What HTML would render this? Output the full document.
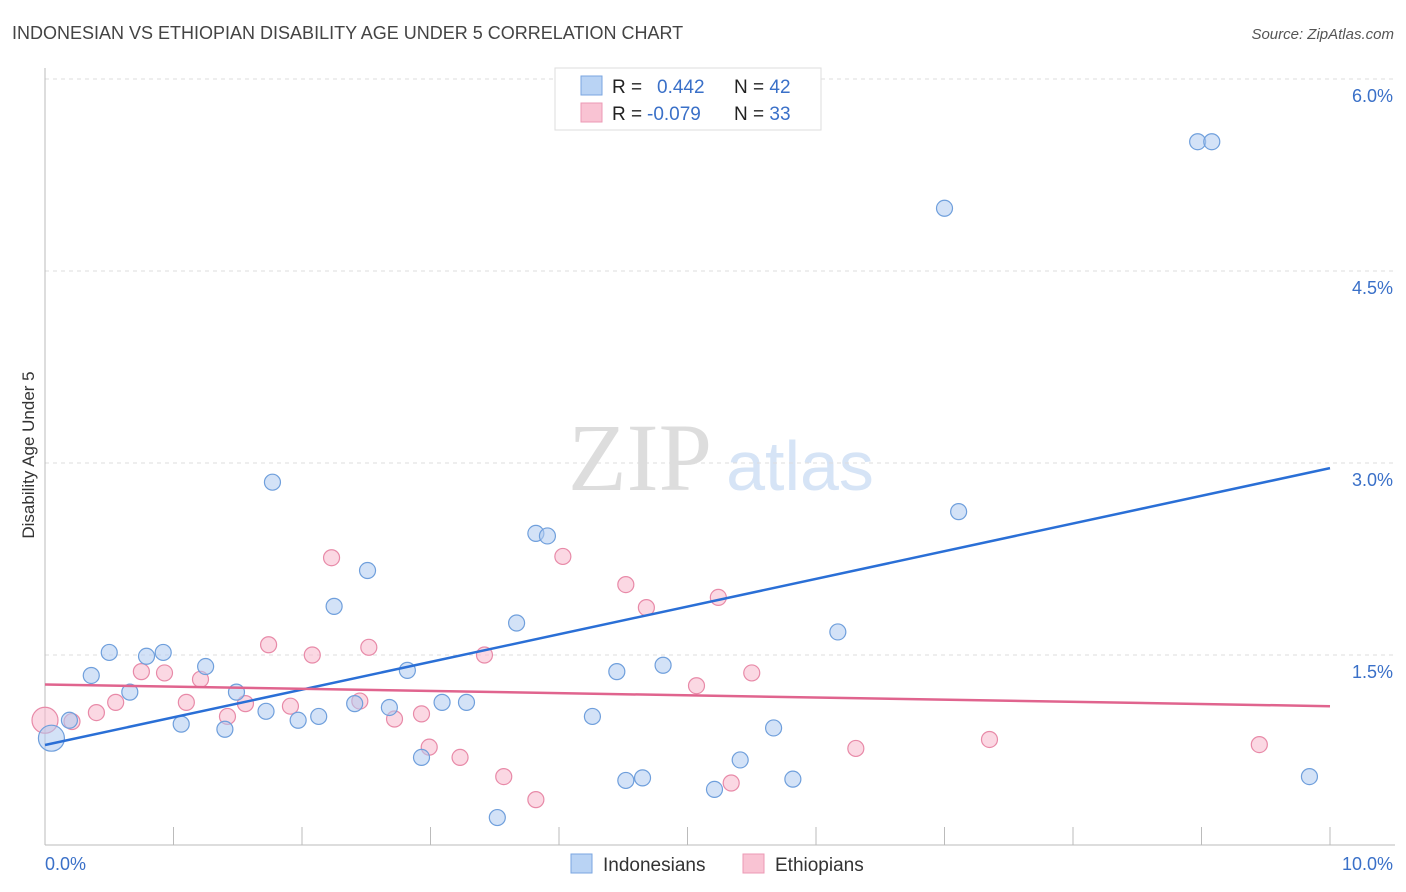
<!DOCTYPE html>
<html><head><meta charset="utf-8"><style>
body{margin:0;background:#fff;font-family:"Liberation Sans",sans-serif}
svg{display:block}
</style></head><body>
<svg id="c" width="1406" height="892">
<text x="12" y="39" font-size="18" fill="#444">INDONESIAN VS ETHIOPIAN DISABILITY AGE UNDER 5 CORRELATION CHART</text>
<text x="1394" y="39" font-size="15" fill="#555" font-style="italic" text-anchor="end">Source: ZipAtlas.com</text>
<text x="640" y="490" font-size="96" fill="#ddd" font-family="Liberation Serif" text-anchor="middle">ZIP</text>
<text x="800" y="490" font-size="70" fill="#d6e4f6" text-anchor="middle">atlas</text>
<text transform="translate(34,455) rotate(-90)" font-size="17" fill="#333" text-anchor="middle">Disability Age Under 5</text>
<g id="grid"></g><g id="pts"></g><g id="lines"></g>
<g>
<rect x="555" y="68" width="266" height="62" fill="#fff" stroke="#ddd"/>
<rect x="581" y="76" width="21" height="19" fill="#b9d3f4" stroke="#7aa6e0"/>
<rect x="581" y="103" width="21" height="19" fill="#f9c3d3" stroke="#ec99b4"/>
<text x="612" y="93" font-size="19" fill="#222">R = <tspan x="657" fill="#3a70c8">0.442</tspan><tspan x="734" fill="#222">N = </tspan><tspan fill="#3a70c8">42</tspan></text>
<text x="612" y="120" font-size="19" fill="#222">R = <tspan x="647" fill="#3a70c8">-0.079</tspan><tspan x="734" fill="#222">N = </tspan><tspan fill="#3a70c8">33</tspan></text>
</g>
<g>
<rect x="571" y="854" width="21" height="19" fill="#b9d3f4" stroke="#7aa6e0"/>
<text x="603" y="871" font-size="19" fill="#333">Indonesians</text>
<rect x="743" y="854" width="21" height="19" fill="#f9c3d3" stroke="#ec99b4"/>
<text x="775" y="871" font-size="19" fill="#333">Ethiopians</text>
</g>
</svg>
<script>
const blueX=[0.05,0.19,0.36,0.50,0.66,0.79,0.92,1.06,1.25,1.40,1.49,1.72,1.77,1.97,2.13,2.25,2.41,2.51,2.68,2.82,2.93,3.09,3.28,3.52,3.67,3.82,3.91,4.26,4.45,4.52,4.65,4.81,5.21,5.41,5.67,5.82,6.17,7.00,7.11,8.97,9.08,9.84];
const blueY=[0.85,0.99,1.34,1.52,1.21,1.49,1.52,0.96,1.41,0.92,1.21,1.06,2.85,0.99,1.02,1.88,1.12,2.16,1.09,1.38,0.70,1.13,1.13,0.23,1.75,2.45,2.43,1.02,1.37,0.52,0.54,1.42,0.45,0.68,0.93,0.53,1.68,4.99,2.62,5.51,5.51,0.55];
const pinkX=[0.0,0.21,0.40,0.55,0.75,0.93,1.10,1.21,1.42,1.56,1.74,1.91,2.08,2.23,2.45,2.52,2.72,2.93,2.99,3.23,3.42,3.57,3.82,4.03,4.52,4.68,5.07,5.24,5.34,5.50,6.31,7.35,9.45];
const pinkY=[0.99,0.98,1.05,1.13,1.37,1.36,1.13,1.31,1.02,1.12,1.58,1.10,1.50,2.26,1.14,1.56,1.00,1.04,0.78,0.70,1.50,0.55,0.37,2.27,2.05,1.87,1.26,1.95,0.50,1.36,0.77,0.84,0.80];
const blueTrend=[0.797,2.96];
const pinkTrend=[1.27,1.10];
const yTicks=[1.5,3.0,4.5,6.0];
const yTickLabels=["1.5%","3.0%","4.5%","6.0%"];
const xTicks=[1,2,3,4,5,6,7,8,9,10];
const NS="http://www.w3.org/2000/svg";
const sx=v=>45+v*128.5, sy=v=>847-v*128;
function mk(tag,attrs,parent,txt){const e=document.createElementNS(NS,tag);for(const k in attrs)e.setAttribute(k,attrs[k]);if(txt!==undefined)e.textContent=txt;document.getElementById(parent).appendChild(e);return e;}
yTicks.forEach((t,i)=>{
 let l=mk('line',{x1:45,x2:1395,y1:sy(t),y2:sy(t),stroke:'#ddd','stroke-dasharray':'4,4'},'grid');
 
 
 let tx=mk('text',{x:1393,y:sy(t)+23,'font-size':18,fill:'#3a70c8','text-anchor':'end'},'grid',yTickLabels[i]);
 
 
});
let ax=mk('line',{x1:45,x2:1395,y1:845,y2:845,stroke:'#bbb'},'grid');


let ay=mk('line',{x1:45,x2:45,y1:68,y2:845,stroke:'#bbb'},'grid');


xTicks.forEach(t=>{let l=mk('line',{x1:sx(t),x2:sx(t),y1:827,y2:845,stroke:'#bbb'},'grid');
 
 });
let x0=mk('text',{x:45,y:870,'font-size':18,fill:'#3a70c8'},'grid','0.0%');


let x1=mk('text',{x:1393,y:870,'font-size':18,fill:'#3a70c8','text-anchor':'end'},'grid','10.0%');


function pts(X,Y,fill,stroke,name){X.forEach((x,i)=>{let c=mk('circle',{cx:sx(x),cy:sy(Y[i]),r:i===0?13:8,fill:fill,'fill-opacity':0.55,stroke:stroke,'stroke-width':1.2},'pts');
 
 });}
pts(pinkX,pinkY,'#f7b8cc','#e88aa8','ethiopian-point');
pts(blueX,blueY,'#aecbf0','#6f9fdc','indonesian-point');
let bl=mk('line',{x1:sx(0),x2:sx(10),y1:sy(blueTrend[0]),y2:sy(blueTrend[1]),stroke:'#2a6fd6','stroke-width':2.5},'lines');


let pl=mk('line',{x1:sx(0),x2:sx(10),y1:sy(pinkTrend[0]),y2:sy(pinkTrend[1]),stroke:'#e0648e','stroke-width':2.5},'lines');


</script>
</body></html>
